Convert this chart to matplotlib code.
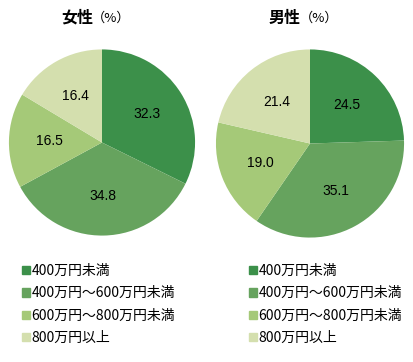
import matplotlib.pyplot as plt
from matplotlib.patches import Patch

plt.rcParams['font.family'] = ['Noto Sans CJK JP', 'DejaVu Sans']

W, H = 414, 362

categories = ['400万円未満', '400万円～600万円未満', '600万円～800万円未満', '800万円以上']
female = [32.3, 34.8, 16.5, 16.4]
male = [24.5, 35.1, 19.0, 21.4]
colors = ['#3c904a', '#66a35e', '#a5c978', '#d4dfae']


def draw_pie(fig, cx, cy, r, values, title, legend_x):
    """cx, cy, r in pixels (y from top)"""
    ax = fig.add_axes([(cx - r) / W, (H - cy - r) / H, 2 * r / W, 2 * r / H])
    ax.pie(values, colors=colors, startangle=90, counterclock=False,
           labels=['%.1f' % v for v in values], labeldistance=0.57,
           wedgeprops=dict(linewidth=0),
           textprops=dict(fontsize=10, family='Liberation Sans', ha='center', va='center'))
    ax.set_xlim(-1.01, 1.01)
    ax.set_ylim(-1.01, 1.01)
    fig.text((cx - 9) / W, 1 - 18 / H, title, ha='right', va='center',
             fontsize=11.5, fontweight='bold')
    fig.text((cx - 10) / W, 1 - 18 / H, '（%）', ha='left', va='center', fontsize=9.5)
    fig.legend(handles=[Patch(color=c) for c in colors], labels=categories,
               loc='upper left', bbox_to_anchor=(legend_x / W, 1 - 264 / H),
               frameon=False, fontsize=10, handlelength=0.55, handleheight=0.55,
               handletextpad=0.15, labelspacing=0.6, borderaxespad=0, borderpad=0)


fig = plt.figure(figsize=(W / 100, H / 100), dpi=100)
draw_pie(fig, 102, 142.5, 94, female, '女性', 22)
draw_pie(fig, 310, 143.5, 95, male, '男性', 249)
fig.savefig('out.png', dpi=100)
